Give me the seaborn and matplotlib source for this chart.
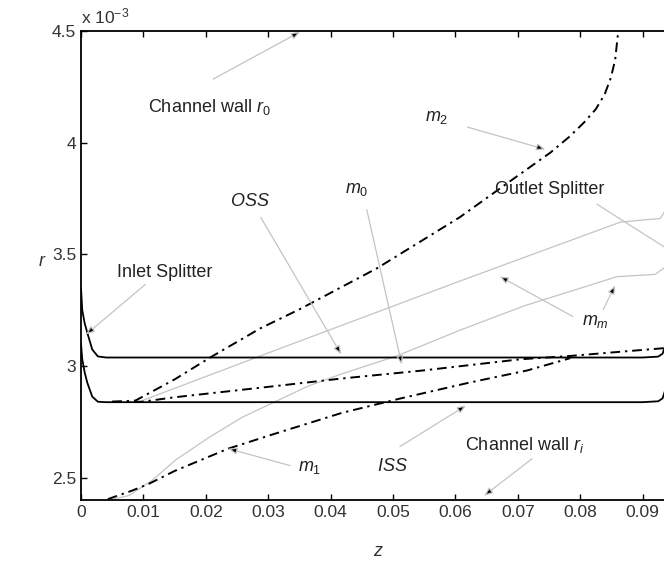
import matplotlib
matplotlib.use("Agg")
import matplotlib.pyplot as plt
import seaborn as sns

# values of r are in units of 1e-3
# channel / splitter walls
oss_z = [0, 0.0002, 0.0006, 0.001, 0.0018, 0.0027, 0.004, 0.090, 0.0925, 0.0932, 0.0936]
oss_r = [3.35, 3.25, 3.19, 3.15, 3.074, 3.043, 3.038, 3.038, 3.042, 3.055, 3.09]
iss_z = [0, 0.0002, 0.0006, 0.001, 0.0018, 0.0027, 0.004, 0.090, 0.0925, 0.0932, 0.0936]
iss_r = [3.10, 3.03, 2.97, 2.926, 2.863, 2.84, 2.838, 2.838, 2.842, 2.855, 2.89]

# streamlines (dash-dot)
m2_z = [0.005, 0.0087, 0.015, 0.021, 0.0287, 0.0351, 0.0474, 0.0607, 0.0699, 0.0752,
        0.0782, 0.0806, 0.0825, 0.0839, 0.0849, 0.0856, 0.0861]
m2_r = [2.84, 2.845, 2.94, 3.043, 3.168, 3.255, 3.437, 3.666, 3.85, 3.955,
        4.025, 4.09, 4.15, 4.215, 4.29, 4.37, 4.50]
m0_z = [0.005, 0.0098, 0.015, 0.0311, 0.0418, 0.0548, 0.0704, 0.0784, 0.0848, 0.0935]
m0_r = [2.84, 2.84, 2.86, 2.91, 2.944, 2.98, 3.03, 3.045, 3.06, 3.08]
m1_z = [0.0043, 0.008, 0.0107, 0.015, 0.0236, 0.0311, 0.0418, 0.0511, 0.0623, 0.0715, 0.0784]
m1_r = [2.404, 2.44, 2.47, 2.53, 2.63, 2.697, 2.79, 2.854, 2.926, 2.98, 3.035]

# mixing layer edges (thin grey)
mmA_z = [0.0098, 0.0311, 0.0607, 0.0864, 0.0905, 0.0928, 0.0935]
mmA_r = [2.845, 3.07, 3.38, 3.644, 3.655, 3.66, 3.69]
mmB_z = [0.0045, 0.0077, 0.0115, 0.0152, 0.0205, 0.0258, 0.0311, 0.0364, 0.0418, 0.0506,
         0.0607, 0.0711, 0.0859, 0.092, 0.0935]
mmB_r = [2.40, 2.42, 2.49, 2.58, 2.68, 2.77, 2.84, 2.91, 2.965, 3.045,
         3.16, 3.27, 3.40, 3.41, 3.44]

x_ticks = [0, 0.01, 0.02, 0.03, 0.04, 0.05, 0.06, 0.07, 0.08, 0.09]
x_labels = ["0", "0.01", "0.02", "0.03", "0.04", "0.05", "0.06", "0.07", "0.08", "0.09"]
y_ticks = [2.5, 3, 3.5, 4, 4.5]
y_labels = ["2.5", "3", "3.5", "4", "4.5"]

# (text, text pos, arrow tail, arrow head)
notes = [
    ("Channel wall $r_0$", (0.0107, 4.16), (0.0212, 4.285), (0.0351, 4.496)),
    ("$m_2$", (0.0551, 4.114), (0.0619, 4.07), (0.0744, 3.97)),
    ("$OSS$", (0.0239, 3.738), (0.0288, 3.666), (0.0417, 3.052)),
    ("$m_0$", (0.0423, 3.79), (0.0458, 3.70), (0.0514, 3.007)),
    ("Outlet Splitter", (0.0663, 3.79), None, None),
    ("Inlet Splitter", (0.0058, 3.419), (0.0103, 3.365), (0.0008, 3.141)),
    ("$m_m$", (0.0803, 3.20), (0.0788, 3.222), (0.0671, 3.401)),
    ("", (0, 0), (0.0837, 3.253), (0.0856, 3.361)),
    ("$m_1$", (0.0348, 2.545), (0.0335, 2.554), (0.0236, 2.63)),
    ("$ISS$", (0.0474, 2.549), (0.0511, 2.639), (0.0617, 2.823)),
    ("Channel wall $r_i$", (0.0615, 2.648), (0.0723, 2.585), (0.0646, 2.419)),
]

sns.set_style("ticks")
plt.rcParams["font.family"] = ["Liberation Sans", "DejaVu Sans"]
plt.rcParams["mathtext.fontset"] = "custom"
plt.rcParams["mathtext.it"] = "Liberation Sans:italic"
plt.rcParams["mathtext.rm"] = "Liberation Sans"

fig = plt.figure(figsize=(6.64, 5.67), dpi=100)
ax = fig.add_axes([81 / 664, 67 / 567, 624 / 664, 469 / 567])

grey = "#c4c4c4"
dd = (0, (5, 2.5, 1.2, 2.5))
sns.lineplot(x=mmA_z, y=mmA_r, ax=ax, color=grey, lw=0.9, sort=False, estimator=None)
sns.lineplot(x=mmB_z, y=mmB_r, ax=ax, color=grey, lw=0.9, sort=False, estimator=None)
sns.lineplot(x=oss_z, y=oss_r, ax=ax, color="black", lw=1.3, sort=False, estimator=None)
sns.lineplot(x=iss_z, y=iss_r, ax=ax, color="black", lw=1.3, sort=False, estimator=None)
for zz, rr in [(m2_z, m2_r), (m0_z, m0_r), (m1_z, m1_r)]:
    sns.lineplot(x=zz, y=rr, ax=ax, color="black", lw=1.4, ls=dd, sort=False, estimator=None)

for txt, tpos, tail, head in notes:
    if txt:
        ax.text(tpos[0], tpos[1], txt, fontsize=13, color="#222222", va="center", ha="left")
    if tail is None:
        continue
    ax.annotate("", xy=head, xytext=tail,
                arrowprops=dict(arrowstyle="-|>,head_length=0.5,head_width=0.2",
                                fc="black", ec=grey, lw=0.9, shrinkA=0, shrinkB=0))
# outlet splitter pointer runs off the right edge
ax.annotate("", xy=(0.0945, 3.515), xytext=(0.0827, 3.724),
            arrowprops=dict(arrowstyle="-", color=grey, lw=0.9, shrinkA=0, shrinkB=0))

ax.set_xlim(0, 0.1)
ax.set_ylim(2.4, 4.5)
ax.set_xticks(x_ticks, x_labels)
ax.set_yticks(y_ticks, y_labels)
ax.tick_params(direction="in", top=True, right=False, length=4, width=1,
               labelsize=12.5, colors="black", labelcolor="#333333")
for s in ax.spines.values():
    s.set_linewidth(1.3)
    s.set_color("black")
ax.set_xlabel("")
ax.set_ylabel("")

fig.text(81 / 664, 1 - 16 / 567, r"x 10$^{-3}$", fontsize=12.5, color="#333333", va="center", ha="left")
fig.text(42 / 664, 1 - 262 / 567, "$r$", fontsize=13, color="#333333", va="center", ha="center")
fig.text(378 / 664, 1 - 552 / 567, "$z$", fontsize=13, color="#333333", va="center", ha="center")

fig.savefig("out.png", dpi=100)
